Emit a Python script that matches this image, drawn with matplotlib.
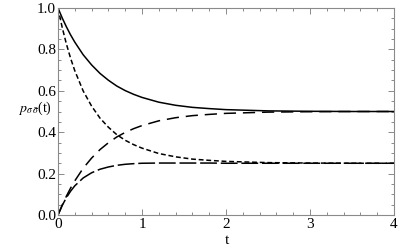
import matplotlib
matplotlib.use('Agg')
import matplotlib.pyplot as plt
from matplotlib.ticker import MultipleLocator, FormatStrFormatter

# values
t = [0, 0.05, 0.1, 0.15, 0.2, 0.3, 0.4, 0.5, 0.6, 0.7, 0.8, 0.9, 1.0,
     1.2, 1.4, 1.6, 1.8, 2.0, 2.5, 3.0, 3.5, 4.0]
p_solid = [1.0, 0.952, 0.909, 0.870, 0.835, 0.774, 0.725, 0.684, 0.651, 0.623, 0.601,
           0.583, 0.568, 0.545, 0.530, 0.520, 0.514, 0.509, 0.503, 0.501, 0.500, 0.500]
p_short = [1.0, 0.906, 0.826, 0.757, 0.697, 0.599, 0.526, 0.468, 0.424, 0.388, 0.361,
           0.340, 0.323, 0.297, 0.281, 0.270, 0.264, 0.259, 0.253, 0.251, 0.250, 0.250]
p_long = [0.0, 0.048, 0.091, 0.130, 0.165, 0.226, 0.275, 0.316, 0.349, 0.377, 0.399,
          0.417, 0.432, 0.455, 0.470, 0.480, 0.486, 0.491, 0.497, 0.499, 0.500, 0.500]
p_longest = [0.0, 0.046, 0.084, 0.115, 0.141, 0.179, 0.204, 0.221, 0.232, 0.240, 0.245,
             0.248, 0.250, 0.251, 0.251, 0.251, 0.251, 0.250, 0.250, 0.250, 0.250, 0.250]

plt.rcParams['font.family'] = ['Liberation Serif', 'DejaVu Serif']
plt.rcParams['mathtext.fontset'] = 'stix'

fig = plt.figure(figsize=(3.99, 2.5), dpi=100)
ax = fig.add_axes([58 / 399, 35 / 250, 336 / 399, 207 / 250])

lw = 1.1
ax.plot(t, p_solid, color='black', lw=lw)
ax.plot(t, p_short, color='black', lw=lw, dashes=(3.2, 1.8))
ax.plot(t, p_long, color='black', lw=lw, dashes=(8, 4.5))
ax.plot(t, p_longest, color='black', lw=lw, dashes=(11, 2.5))

ax.set_xlim(0, 4)
ax.set_ylim(0, 1)
ax.xaxis.set_major_locator(MultipleLocator(1))
ax.xaxis.set_minor_locator(MultipleLocator(0.2))
ax.yaxis.set_major_locator(MultipleLocator(0.2))
ax.yaxis.set_minor_locator(MultipleLocator(0.05))
ax.xaxis.set_major_formatter(FormatStrFormatter('%d'))
ax.yaxis.set_major_formatter(FormatStrFormatter('%.1f'))

frame = '#8a8a8a'
for s in ax.spines.values():
    s.set_color(frame)
    s.set_linewidth(0.8)
ax.tick_params(which='both', direction='in', top=True, right=True,
               color=frame, width=0.7, labelsize=11, labelcolor='black')
ax.tick_params(which='major', length=4)
ax.tick_params(which='minor', length=2)
ax.tick_params(axis='y', pad=1.5)
ax.tick_params(axis='x', pad=2.5)

fig.text(18 / 399, 1 - 108 / 250, r'$p_{\sigma\,\bar{\sigma}}$(t)', fontsize=10,
         ha='left', va='center')
fig.text(227 / 399, 1 - 240 / 250, 't', fontsize=11, ha='center', va='center')

fig.savefig('out.png', dpi=100)
